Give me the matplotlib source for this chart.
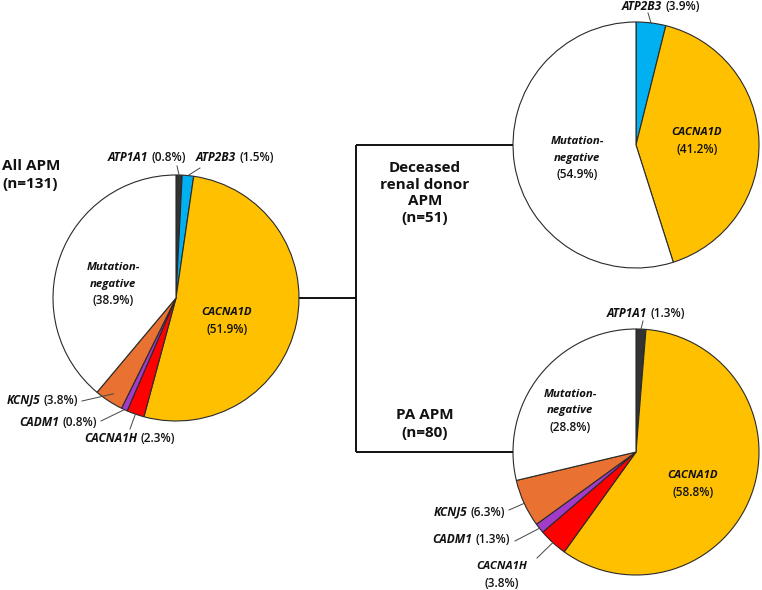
import matplotlib.pyplot as plt
import numpy as np

plt.rcParams['font.family'] = ['Open Sans', 'DejaVu Sans']

H = 590  # figure height in pixels (data units = pixels)

# ---------------- data ----------------
all_labels = ["ATP1A1", "ATP2B3", "CACNA1D", "CACNA1H", "CADM1", "KCNJ5", "Mutation-negative"]
all_values = [0.8, 1.5, 51.9, 2.3, 0.8, 3.8, 38.9]

dd_labels = ["ATP2B3", "CACNA1D", "Mutation-negative"]
dd_values = [3.9, 41.2, 54.9]

pa_labels = ["ATP1A1", "CACNA1D", "CACNA1H", "CADM1", "KCNJ5", "Mutation-negative"]
pa_values = [1.3, 58.8, 3.8, 1.3, 6.3, 28.8]

colors = {"ATP1A1": "#333333", "ATP2B3": "#00B0F0", "CACNA1D": "#FFC000",
          "CACNA1H": "#FF0000", "CADM1": "#A23CC8", "KCNJ5": "#E97132",
          "Mutation-negative": "#FFFFFF"}

fig = plt.figure(figsize=(7.62, 5.90), dpi=100)
ax = fig.add_axes([0, 0, 1, 1])

R = 123
centers = {"all": (176, 298), "dd": (636, 145), "pa": (636, 452)}


def draw_pie(key, labels, values):
    cx, cy = centers[key]
    wedges, _ = ax.pie(values, colors=[colors[l] for l in labels], startangle=90,
                       counterclock=False, center=(cx, H - cy), radius=R,
                       wedgeprops=dict(edgecolor="#2a2a2a", linewidth=0.8))
    return {l: w for l, w in zip(labels, wedges)}


w_all = draw_pie("all", all_labels, all_values)
w_dd = draw_pie("dd", dd_labels, dd_values)
w_pa = draw_pie("pa", pa_labels, pa_values)

ax.set_xlim(0, 762)
ax.set_ylim(0, H)
ax.set_aspect('equal')
ax.axis('off')

fig.canvas.draw()
renderer = fig.canvas.get_renderer()

FS = 8.6
FSI = 8.2


def edge_point(key, wedge, frac=1.0):
    cx, cy = centers[key]
    m = np.deg2rad((wedge.theta1 + wedge.theta2) / 2)
    return cx + frac * R * np.cos(m), cy - frac * R * np.sin(m)


def gene_label(x, y, gene, pct, ha='left'):
    t1 = ax.text(0, 0, gene, fontsize=FS, fontweight='bold', fontstyle='italic',
                 va='baseline', ha='left', color='#111111')
    t2 = ax.text(0, 0, f"({pct}%)", fontsize=FS, fontweight='semibold', va='baseline',
                 ha='left', color='#111111')
    w1 = t1.get_window_extent(renderer).width
    w2 = t2.get_window_extent(renderer).width
    gap = 3
    W = w1 + gap + w2
    if ha == 'left':
        x0 = x
    elif ha == 'right':
        x0 = x - W
    else:
        x0 = x - W / 2
    t1.set_position((x0, H - y))
    t2.set_position((x0 + w1 + gap, H - y))


def stacked(x, y, lines, spacing=16.5):
    n = len(lines)
    for i, (s, ib) in enumerate(lines):
        yy = y + (i - (n - 1) / 2) * spacing
        if ib:
            ax.text(x, H - yy, s, fontsize=FSI, fontweight='bold', fontstyle='italic',
                    ha='center', va='center', color='#111111')
        else:
            ax.text(x, H - yy, s, fontsize=FS, fontweight='semibold',
                    ha='center', va='center', color='#111111')


def leader(x0, y0, x1, y1):
    ax.plot([x0, x1], [H - y0, H - y1], color='#444444', lw=0.7)


# ---- All APM pie labels ----
gene_label(108, 161, "ATP1A1", all_values[0])
px, py = edge_point("all", w_all["ATP1A1"])
leader(177, 166, px, py)
gene_label(196, 161, "ATP2B3", all_values[1])
px, py = edge_point("all", w_all["ATP2B3"])
leader(200, 168, px, py)
stacked(113, 284, [("Mutation-", True), ("negative", True), (f"({all_values[6]}%)", False)])
stacked(227, 321, [("CACNA1D", True), (f"({all_values[2]}%)", False)])
gene_label(78, 404, "KCNJ5", all_values[5], ha='right')
px, py = edge_point("all", w_all["KCNJ5"], 0.93)
leader(82, 401, px, py)
gene_label(97, 426, "CADM1", all_values[4], ha='right')
px, py = edge_point("all", w_all["CADM1"])
leader(101, 421, px, py)
gene_label(130, 442, "CACNA1H", all_values[3], ha='center')
px, py = edge_point("all", w_all["CACNA1H"])
leader(130, 429, px, py)

# ---- Deceased donor pie labels ----
gene_label(661, 10, "ATP2B3", dd_values[0], ha='center')
px, py = edge_point("dd", w_dd["ATP2B3"])
leader(648, 13, px, py)
stacked(577, 158, [("Mutation-", True), ("negative", True), (f"({dd_values[2]}%)", False)])
stacked(697, 141, [("CACNA1D", True), (f"({dd_values[1]}%)", False)])

# ---- PA APM pie labels ----
gene_label(646, 317, "ATP1A1", pa_values[0], ha='center')
px, py = edge_point("pa", w_pa["ATP1A1"])
leader(643, 321, px, py)
stacked(570, 411, [("Mutation-", True), ("negative", True), (f"({pa_values[5]}%)", False)])
stacked(693, 484, [("CACNA1D", True), (f"({pa_values[1]}%)", False)])
gene_label(505, 516, "KCNJ5", pa_values[4], ha='right')
px, py = edge_point("pa", w_pa["KCNJ5"])
leader(509, 510, px, py)
gene_label(510, 543, "CADM1", pa_values[3], ha='right')
px, py = edge_point("pa", w_pa["CADM1"])
leader(515, 541, px, py)
stacked(502, 575, [("CACNA1H", True), (f"({pa_values[2]}%)", False)])
px, py = edge_point("pa", w_pa["CACNA1H"])
leader(537, 558, px, py)

# ---- group titles ----
ax.text(2, H - 175, "All APM\n(n=131)", fontsize=11, fontweight='bold', ha='left',
        va='center', linespacing=1.3, color='#111111')
ax.text(425, H - 193, "Deceased\nrenal donor\nAPM\n(n=51)", fontsize=11, fontweight='bold',
        ha='center', va='center', linespacing=1.25, color='#111111')
ax.text(425, H - 424, "PA APM\n(n=80)", fontsize=11, fontweight='bold', ha='center',
        va='center', linespacing=1.4, color='#111111')

# ---- connector lines ----
lc = dict(color='#111111', lw=1.4, solid_capstyle='butt')
ax.plot([centers["all"][0] + R, 356], [H - 298, H - 298], **lc)
ax.plot([356, 356], [H - 145, H - 452], **lc)
ax.plot([356, centers["dd"][0] - R], [H - 145, H - 145], **lc)
ax.plot([356, centers["pa"][0] - R], [H - 452, H - 452], **lc)

fig.savefig("out.png", dpi=100, facecolor='white')
